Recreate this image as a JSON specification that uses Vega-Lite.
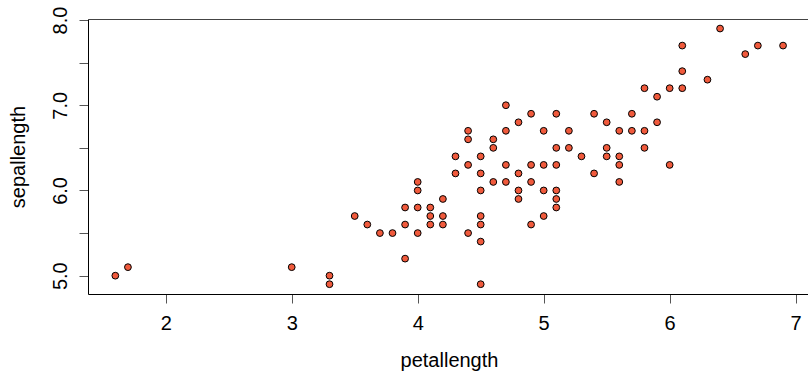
{
  "$schema": "https://vega.github.io/schema/vega-lite/v6.json",
  "autosize": {"type": "none"},
  "width": 720,
  "height": 275,
  "padding": {"left": 88, "top": 19, "right": 0, "bottom": 82},
  "background": "white",
  "config": {
    "view": {"stroke": null},
    "font": "Liberation Sans",
    "axis": {
      "grid": false,
      "domainColor": "black",
      "domainWidth": 1,
      "tickColor": "#555555",
      "tickWidth": 1,
      "tickSize": 9,
      "labelFont": "Liberation Sans",
      "labelFontSize": 20,
      "labelColor": "black",
      "titleFont": "Liberation Sans",
      "titleFontSize": 20,
      "titleFontWeight": "normal",
      "titleColor": "black"
    }
  },
  "data": {
    "values": [
      {"petallength": 1.6, "sepallength": 5.0},
      {"petallength": 1.7, "sepallength": 5.1},
      {"petallength": 3.0, "sepallength": 5.1},
      {"petallength": 3.3, "sepallength": 5.0},
      {"petallength": 3.3, "sepallength": 4.9},
      {"petallength": 3.5, "sepallength": 5.7},
      {"petallength": 3.6, "sepallength": 5.6},
      {"petallength": 3.7, "sepallength": 5.5},
      {"petallength": 3.8, "sepallength": 5.5},
      {"petallength": 3.9, "sepallength": 5.8},
      {"petallength": 3.9, "sepallength": 5.6},
      {"petallength": 3.9, "sepallength": 5.2},
      {"petallength": 4.0, "sepallength": 6.1},
      {"petallength": 4.0, "sepallength": 6.0},
      {"petallength": 4.0, "sepallength": 5.8},
      {"petallength": 4.0, "sepallength": 5.5},
      {"petallength": 4.1, "sepallength": 5.8},
      {"petallength": 4.1, "sepallength": 5.7},
      {"petallength": 4.1, "sepallength": 5.6},
      {"petallength": 4.2, "sepallength": 5.9},
      {"petallength": 4.2, "sepallength": 5.7},
      {"petallength": 4.2, "sepallength": 5.6},
      {"petallength": 4.3, "sepallength": 6.4},
      {"petallength": 4.3, "sepallength": 6.2},
      {"petallength": 4.4, "sepallength": 6.7},
      {"petallength": 4.4, "sepallength": 6.6},
      {"petallength": 4.4, "sepallength": 6.3},
      {"petallength": 4.4, "sepallength": 5.5},
      {"petallength": 4.5, "sepallength": 6.4},
      {"petallength": 4.5, "sepallength": 6.2},
      {"petallength": 4.5, "sepallength": 6.0},
      {"petallength": 4.5, "sepallength": 5.7},
      {"petallength": 4.5, "sepallength": 5.6},
      {"petallength": 4.5, "sepallength": 5.4},
      {"petallength": 4.5, "sepallength": 4.9},
      {"petallength": 4.6, "sepallength": 6.6},
      {"petallength": 4.6, "sepallength": 6.5},
      {"petallength": 4.6, "sepallength": 6.1},
      {"petallength": 4.7, "sepallength": 7.0},
      {"petallength": 4.7, "sepallength": 6.7},
      {"petallength": 4.7, "sepallength": 6.3},
      {"petallength": 4.7, "sepallength": 6.1},
      {"petallength": 4.8, "sepallength": 6.8},
      {"petallength": 4.8, "sepallength": 6.2},
      {"petallength": 4.8, "sepallength": 6.0},
      {"petallength": 4.8, "sepallength": 5.9},
      {"petallength": 4.9, "sepallength": 6.9},
      {"petallength": 4.9, "sepallength": 6.3},
      {"petallength": 4.9, "sepallength": 6.1},
      {"petallength": 4.9, "sepallength": 5.6},
      {"petallength": 5.0, "sepallength": 6.7},
      {"petallength": 5.0, "sepallength": 6.3},
      {"petallength": 5.0, "sepallength": 6.0},
      {"petallength": 5.0, "sepallength": 5.7},
      {"petallength": 5.1, "sepallength": 6.9},
      {"petallength": 5.1, "sepallength": 6.5},
      {"petallength": 5.1, "sepallength": 6.3},
      {"petallength": 5.1, "sepallength": 6.0},
      {"petallength": 5.1, "sepallength": 5.9},
      {"petallength": 5.1, "sepallength": 5.8},
      {"petallength": 5.2, "sepallength": 6.7},
      {"petallength": 5.2, "sepallength": 6.5},
      {"petallength": 5.3, "sepallength": 6.4},
      {"petallength": 5.4, "sepallength": 6.9},
      {"petallength": 5.4, "sepallength": 6.2},
      {"petallength": 5.5, "sepallength": 6.8},
      {"petallength": 5.5, "sepallength": 6.5},
      {"petallength": 5.5, "sepallength": 6.4},
      {"petallength": 5.6, "sepallength": 6.7},
      {"petallength": 5.6, "sepallength": 6.4},
      {"petallength": 5.6, "sepallength": 6.3},
      {"petallength": 5.6, "sepallength": 6.1},
      {"petallength": 5.7, "sepallength": 6.9},
      {"petallength": 5.7, "sepallength": 6.7},
      {"petallength": 5.8, "sepallength": 7.2},
      {"petallength": 5.8, "sepallength": 6.7},
      {"petallength": 5.8, "sepallength": 6.5},
      {"petallength": 5.9, "sepallength": 7.1},
      {"petallength": 5.9, "sepallength": 6.8},
      {"petallength": 6.0, "sepallength": 7.2},
      {"petallength": 6.0, "sepallength": 6.3},
      {"petallength": 6.1, "sepallength": 7.7},
      {"petallength": 6.1, "sepallength": 7.4},
      {"petallength": 6.1, "sepallength": 7.2},
      {"petallength": 6.3, "sepallength": 7.3},
      {"petallength": 6.4, "sepallength": 7.9},
      {"petallength": 6.6, "sepallength": 7.6},
      {"petallength": 6.7, "sepallength": 7.7},
      {"petallength": 6.9, "sepallength": 7.7}
    ]
  },
  "layer": [
    {
      "mark": {"type": "point", "shape": "circle", "filled": true, "fill": "#F05A3C", "stroke": "black", "strokeWidth": 1, "size": 46, "opacity": 1},
      "encoding": {
        "x": {
          "field": "petallength", "type": "quantitative",
          "scale": {"domain": [1.383, 7.098], "nice": false, "zero": false},
          "axis": {
            "orient": "bottom", "values": [2, 3, 4, 5, 6, 7], "format": "d",
            "labelPadding": 10, "labelBaseline": "top",
            "title": "petallength", "titleX": 361, "titleY": 72, "titleBaseline": "alphabetic", "titleAlign": "center"
          }
        },
        "y": {
          "field": "sepallength", "type": "quantitative",
          "scale": {"domain": [4.785, 8.012], "nice": false, "zero": false},
          "axis": {
            "orient": "left", "values": [5, 5.5, 6, 6.5, 7, 7.5, 8],
            "labelExpr": "datum.value % 1 == 0 ? format(datum.value, '.1f') : ''",
            "labelAngle": -90, "labelAlign": "center", "labelBaseline": "alphabetic", "labelPadding": 13,
            "title": "sepallength", "titleAngle": -90, "titleX": -64, "titleY": 137.5, "titleBaseline": "alphabetic", "titleAlign": "center"
          }
        }
      }
    },
    {
      "mark": {"type": "point", "opacity": 0},
      "encoding": {
        "x": {
          "field": "petallength", "type": "quantitative",
          "scale": {"domain": [1.383, 7.098], "nice": false, "zero": false},
          "axis": {"orient": "top", "ticks": false, "labels": false, "title": null, "domainColor": "#444444"}
        },
        "y": {"field": "sepallength", "type": "quantitative"}
      }
    }
  ],
  "resolve": {"axis": {"x": "independent"}}
}
